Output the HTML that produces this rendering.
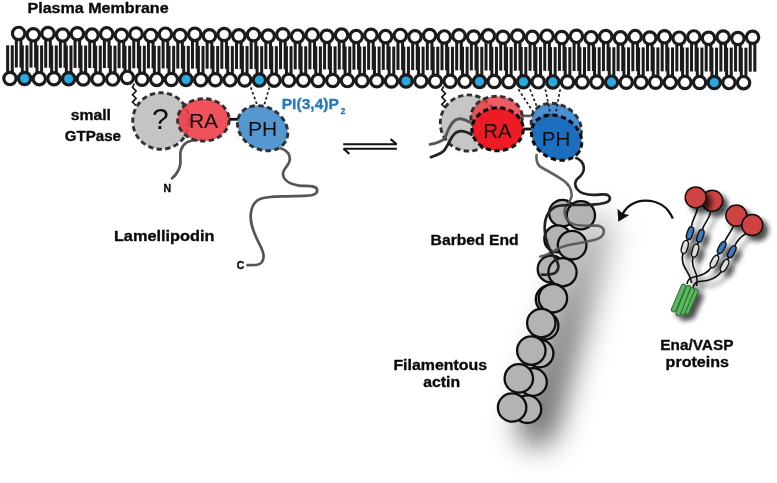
<!DOCTYPE html>
<html><head><meta charset="utf-8"><title>Lamellipodin model</title>
<style>html,body{margin:0;padding:0;background:#fff;overflow:hidden}svg{display:block}.b{font-family:"Liberation Sans",Arial,sans-serif;font-weight:bold;fill:#0a0a0a;stroke:#0a0a0a;stroke-width:0.35px}.r{font-family:"Liberation Sans",Arial,sans-serif;fill:#0c0c0c;opacity:.999}</style></head><body>
<svg width="777" height="483" viewBox="0 0 777 483">
<defs><filter id="blurA" filterUnits="userSpaceOnUse" x="420" y="120" width="330" height="363"><feGaussianBlur stdDeviation="15"/></filter><linearGradient id="sg" gradientUnits="userSpaceOnUse" x1="603" y1="215" x2="549" y2="440"><stop offset="0" stop-color="#000" stop-opacity="0.22"/><stop offset="0.5" stop-color="#000" stop-opacity="0.47"/><stop offset="1" stop-color="#000" stop-opacity="0.64"/></linearGradient><filter id="ds" x="-40%" y="-40%" width="190%" height="190%"><feGaussianBlur in="SourceAlpha" stdDeviation="2.4"/><feOffset dx="4.5" dy="4.5" result="o"/><feComponentTransfer><feFuncA type="linear" slope="0.7"/></feComponentTransfer><feMerge><feMergeNode/><feMergeNode in="SourceGraphic"/></feMerge></filter></defs>
<rect width="777" height="483" fill="#fff"/>
<g fill="#1c1a1a"><rect x="14.84" y="38.45" width="3.0" height="29.07"/><rect x="19.44" y="38.45" width="3.0" height="29.07"/><rect x="29.52" y="39.82" width="3.0" height="27.79"/><rect x="34.12" y="39.82" width="3.0" height="27.79"/><rect x="44.20" y="38.60" width="3.0" height="29.11"/><rect x="48.80" y="38.60" width="3.0" height="29.11"/><rect x="58.87" y="39.98" width="3.0" height="27.83"/><rect x="63.47" y="39.98" width="3.0" height="27.83"/><rect x="73.55" y="38.75" width="3.0" height="29.14"/><rect x="78.15" y="38.75" width="3.0" height="29.14"/><rect x="88.23" y="40.13" width="3.0" height="27.86"/><rect x="92.83" y="40.13" width="3.0" height="27.86"/><rect x="102.91" y="38.90" width="3.0" height="29.18"/><rect x="107.51" y="38.90" width="3.0" height="29.18"/><rect x="117.59" y="40.28" width="3.0" height="27.90"/><rect x="122.19" y="40.28" width="3.0" height="27.90"/><rect x="132.26" y="39.06" width="3.0" height="29.21"/><rect x="136.86" y="39.06" width="3.0" height="29.21"/><rect x="146.94" y="40.43" width="3.0" height="27.93"/><rect x="151.54" y="40.43" width="3.0" height="27.93"/><rect x="161.62" y="39.21" width="3.0" height="29.25"/><rect x="166.22" y="39.21" width="3.0" height="29.25"/><rect x="176.30" y="40.59" width="3.0" height="27.97"/><rect x="180.90" y="40.59" width="3.0" height="27.97"/><rect x="190.98" y="39.36" width="3.0" height="29.28"/><rect x="195.58" y="39.36" width="3.0" height="29.28"/><rect x="205.65" y="40.74" width="3.0" height="28.00"/><rect x="210.25" y="40.74" width="3.0" height="28.00"/><rect x="220.33" y="39.52" width="3.0" height="29.32"/><rect x="224.93" y="39.52" width="3.0" height="29.32"/><rect x="235.01" y="40.89" width="3.0" height="28.04"/><rect x="239.61" y="40.89" width="3.0" height="28.04"/><rect x="249.69" y="39.67" width="3.0" height="29.35"/><rect x="254.29" y="39.67" width="3.0" height="29.35"/><rect x="264.37" y="41.04" width="3.0" height="28.07"/><rect x="268.97" y="41.04" width="3.0" height="28.07"/><rect x="279.04" y="39.82" width="3.0" height="29.39"/><rect x="283.64" y="39.82" width="3.0" height="29.39"/><rect x="293.72" y="41.20" width="3.0" height="28.11"/><rect x="298.32" y="41.20" width="3.0" height="28.11"/><rect x="308.40" y="39.97" width="3.0" height="29.42"/><rect x="313.00" y="39.97" width="3.0" height="29.42"/><rect x="323.08" y="41.35" width="3.0" height="28.14"/><rect x="327.68" y="41.35" width="3.0" height="28.14"/><rect x="337.76" y="40.13" width="3.0" height="29.46"/><rect x="342.36" y="40.13" width="3.0" height="29.46"/><rect x="352.43" y="41.50" width="3.0" height="28.18"/><rect x="357.03" y="41.50" width="3.0" height="28.18"/><rect x="367.11" y="40.28" width="3.0" height="29.50"/><rect x="371.71" y="40.28" width="3.0" height="29.50"/><rect x="381.79" y="41.66" width="3.0" height="28.21"/><rect x="386.39" y="41.66" width="3.0" height="28.21"/><rect x="396.47" y="40.43" width="3.0" height="29.53"/><rect x="401.07" y="40.43" width="3.0" height="29.53"/><rect x="411.15" y="41.81" width="3.0" height="28.25"/><rect x="415.75" y="41.81" width="3.0" height="28.25"/><rect x="425.82" y="40.58" width="3.0" height="29.57"/><rect x="430.42" y="40.58" width="3.0" height="29.57"/><rect x="440.50" y="41.96" width="3.0" height="28.28"/><rect x="445.10" y="41.96" width="3.0" height="28.28"/><rect x="455.18" y="40.74" width="3.0" height="29.60"/><rect x="459.78" y="40.74" width="3.0" height="29.60"/><rect x="469.86" y="42.11" width="3.0" height="28.32"/><rect x="474.46" y="42.11" width="3.0" height="28.32"/><rect x="484.54" y="40.89" width="3.0" height="29.64"/><rect x="489.14" y="40.89" width="3.0" height="29.64"/><rect x="499.21" y="42.27" width="3.0" height="28.35"/><rect x="503.81" y="42.27" width="3.0" height="28.35"/><rect x="513.89" y="41.04" width="3.0" height="29.67"/><rect x="518.49" y="41.04" width="3.0" height="29.67"/><rect x="528.57" y="42.42" width="3.0" height="28.39"/><rect x="533.17" y="42.42" width="3.0" height="28.39"/><rect x="543.25" y="41.19" width="3.0" height="29.69"/><rect x="547.85" y="41.19" width="3.0" height="29.69"/><rect x="557.93" y="42.57" width="3.0" height="28.37"/><rect x="562.53" y="42.57" width="3.0" height="28.37"/><rect x="572.60" y="41.35" width="3.0" height="29.65"/><rect x="577.20" y="41.35" width="3.0" height="29.65"/><rect x="587.28" y="42.72" width="3.0" height="28.33"/><rect x="591.88" y="42.72" width="3.0" height="28.33"/><rect x="601.96" y="41.50" width="3.0" height="29.61"/><rect x="606.56" y="41.50" width="3.0" height="29.61"/><rect x="616.64" y="42.88" width="3.0" height="28.29"/><rect x="621.24" y="42.88" width="3.0" height="28.29"/><rect x="631.32" y="41.65" width="3.0" height="29.57"/><rect x="635.92" y="41.65" width="3.0" height="29.57"/><rect x="645.99" y="43.03" width="3.0" height="28.26"/><rect x="650.59" y="43.03" width="3.0" height="28.26"/><rect x="660.67" y="41.81" width="3.0" height="29.54"/><rect x="665.27" y="41.81" width="3.0" height="29.54"/><rect x="675.35" y="43.18" width="3.0" height="28.22"/><rect x="679.95" y="43.18" width="3.0" height="28.22"/><rect x="690.03" y="41.96" width="3.0" height="29.50"/><rect x="694.63" y="41.96" width="3.0" height="29.50"/><rect x="704.71" y="43.33" width="3.0" height="28.18"/><rect x="709.31" y="43.33" width="3.0" height="28.18"/><rect x="719.38" y="42.11" width="3.0" height="29.46"/><rect x="723.98" y="42.11" width="3.0" height="29.46"/><rect x="734.06" y="43.49" width="3.0" height="28.14"/><rect x="738.66" y="43.49" width="3.0" height="28.14"/><rect x="748.74" y="42.26" width="3.0" height="29.42"/><rect x="753.34" y="42.26" width="3.0" height="29.42"/><rect x="6.15" y="45.33" width="3.0" height="28.13"/><rect x="10.75" y="45.33" width="3.0" height="28.13"/><rect x="20.82" y="45.38" width="3.0" height="28.18"/><rect x="25.42" y="45.38" width="3.0" height="28.18"/><rect x="35.50" y="45.43" width="3.0" height="28.23"/><rect x="40.10" y="45.43" width="3.0" height="28.23"/><rect x="50.17" y="45.47" width="3.0" height="28.27"/><rect x="54.77" y="45.47" width="3.0" height="28.27"/><rect x="64.84" y="45.52" width="3.0" height="28.32"/><rect x="69.44" y="45.52" width="3.0" height="28.32"/><rect x="79.52" y="45.57" width="3.0" height="28.37"/><rect x="84.11" y="45.57" width="3.0" height="28.37"/><rect x="94.19" y="45.61" width="3.0" height="28.41"/><rect x="98.79" y="45.61" width="3.0" height="28.41"/><rect x="108.86" y="45.66" width="3.0" height="28.46"/><rect x="113.46" y="45.66" width="3.0" height="28.46"/><rect x="123.53" y="45.71" width="3.0" height="28.51"/><rect x="128.13" y="45.71" width="3.0" height="28.51"/><rect x="138.21" y="45.75" width="3.0" height="28.55"/><rect x="142.81" y="45.75" width="3.0" height="28.55"/><rect x="152.88" y="45.80" width="3.0" height="28.60"/><rect x="157.48" y="45.80" width="3.0" height="28.60"/><rect x="167.55" y="45.85" width="3.0" height="28.65"/><rect x="172.15" y="45.85" width="3.0" height="28.65"/><rect x="182.23" y="45.90" width="3.0" height="28.70"/><rect x="186.83" y="45.90" width="3.0" height="28.70"/><rect x="196.90" y="45.94" width="3.0" height="28.74"/><rect x="201.50" y="45.94" width="3.0" height="28.74"/><rect x="211.57" y="45.99" width="3.0" height="28.79"/><rect x="216.17" y="45.99" width="3.0" height="28.79"/><rect x="226.24" y="46.04" width="3.0" height="28.84"/><rect x="230.84" y="46.04" width="3.0" height="28.84"/><rect x="240.92" y="46.08" width="3.0" height="28.88"/><rect x="245.52" y="46.08" width="3.0" height="28.88"/><rect x="255.59" y="46.13" width="3.0" height="28.93"/><rect x="260.19" y="46.13" width="3.0" height="28.93"/><rect x="270.26" y="46.18" width="3.0" height="28.98"/><rect x="274.86" y="46.18" width="3.0" height="28.98"/><rect x="284.94" y="46.22" width="3.0" height="29.02"/><rect x="289.54" y="46.22" width="3.0" height="29.02"/><rect x="299.61" y="46.27" width="3.0" height="29.07"/><rect x="304.21" y="46.27" width="3.0" height="29.07"/><rect x="314.28" y="46.32" width="3.0" height="29.12"/><rect x="318.88" y="46.32" width="3.0" height="29.12"/><rect x="328.96" y="46.36" width="3.0" height="29.16"/><rect x="333.56" y="46.36" width="3.0" height="29.16"/><rect x="343.63" y="46.41" width="3.0" height="29.21"/><rect x="348.23" y="46.41" width="3.0" height="29.21"/><rect x="358.30" y="46.46" width="3.0" height="29.26"/><rect x="362.90" y="46.46" width="3.0" height="29.26"/><rect x="372.97" y="46.51" width="3.0" height="29.31"/><rect x="377.57" y="46.51" width="3.0" height="29.31"/><rect x="387.65" y="46.55" width="3.0" height="29.35"/><rect x="392.25" y="46.55" width="3.0" height="29.35"/><rect x="402.32" y="46.60" width="3.0" height="29.40"/><rect x="406.92" y="46.60" width="3.0" height="29.40"/><rect x="416.99" y="46.65" width="3.0" height="29.45"/><rect x="421.59" y="46.65" width="3.0" height="29.45"/><rect x="431.67" y="46.69" width="3.0" height="29.49"/><rect x="436.27" y="46.69" width="3.0" height="29.49"/><rect x="446.34" y="46.74" width="3.0" height="29.54"/><rect x="450.94" y="46.74" width="3.0" height="29.54"/><rect x="461.01" y="46.79" width="3.0" height="29.59"/><rect x="465.61" y="46.79" width="3.0" height="29.59"/><rect x="475.69" y="46.83" width="3.0" height="29.63"/><rect x="480.29" y="46.83" width="3.0" height="29.63"/><rect x="490.36" y="46.88" width="3.0" height="29.68"/><rect x="494.96" y="46.88" width="3.0" height="29.68"/><rect x="505.03" y="46.93" width="3.0" height="29.73"/><rect x="509.63" y="46.93" width="3.0" height="29.73"/><rect x="519.71" y="46.98" width="3.0" height="29.78"/><rect x="524.30" y="46.98" width="3.0" height="29.78"/><rect x="534.38" y="47.02" width="3.0" height="29.82"/><rect x="538.98" y="47.02" width="3.0" height="29.82"/><rect x="549.05" y="47.07" width="3.0" height="29.84"/><rect x="553.65" y="47.07" width="3.0" height="29.84"/><rect x="563.72" y="47.12" width="3.0" height="29.85"/><rect x="568.32" y="47.12" width="3.0" height="29.85"/><rect x="578.40" y="47.16" width="3.0" height="29.86"/><rect x="583.00" y="47.16" width="3.0" height="29.86"/><rect x="593.07" y="47.21" width="3.0" height="29.87"/><rect x="597.67" y="47.21" width="3.0" height="29.87"/><rect x="607.74" y="47.26" width="3.0" height="29.88"/><rect x="612.34" y="47.26" width="3.0" height="29.88"/><rect x="622.42" y="47.30" width="3.0" height="29.89"/><rect x="627.02" y="47.30" width="3.0" height="29.89"/><rect x="637.09" y="47.35" width="3.0" height="29.90"/><rect x="641.69" y="47.35" width="3.0" height="29.90"/><rect x="651.76" y="47.40" width="3.0" height="29.91"/><rect x="656.36" y="47.40" width="3.0" height="29.91"/><rect x="666.44" y="47.44" width="3.0" height="29.92"/><rect x="671.03" y="47.44" width="3.0" height="29.92"/><rect x="681.11" y="47.49" width="3.0" height="29.93"/><rect x="685.71" y="47.49" width="3.0" height="29.93"/><rect x="695.78" y="47.54" width="3.0" height="29.94"/><rect x="700.38" y="47.54" width="3.0" height="29.94"/><rect x="710.45" y="47.59" width="3.0" height="29.95"/><rect x="715.05" y="47.59" width="3.0" height="29.95"/><rect x="725.13" y="47.63" width="3.0" height="29.96"/><rect x="729.73" y="47.63" width="3.0" height="29.96"/><rect x="739.80" y="47.68" width="3.0" height="29.97"/><rect x="744.40" y="47.68" width="3.0" height="29.97"/></g>
<g fill="#fff" stroke="#1c1a1a" stroke-width="3.2"><circle cx="18.64" cy="33.45" r="6.2"/><circle cx="33.32" cy="34.82" r="6.2"/><circle cx="48.00" cy="33.60" r="6.2"/><circle cx="62.67" cy="34.98" r="6.2"/><circle cx="77.35" cy="33.75" r="6.2"/><circle cx="92.03" cy="35.13" r="6.2"/><circle cx="106.71" cy="33.90" r="6.2"/><circle cx="121.39" cy="35.28" r="6.2"/><circle cx="136.06" cy="34.06" r="6.2"/><circle cx="150.74" cy="35.43" r="6.2"/><circle cx="165.42" cy="34.21" r="6.2"/><circle cx="180.10" cy="35.59" r="6.2"/><circle cx="194.78" cy="34.36" r="6.2"/><circle cx="209.45" cy="35.74" r="6.2"/><circle cx="224.13" cy="34.52" r="6.2"/><circle cx="238.81" cy="35.89" r="6.2"/><circle cx="253.49" cy="34.67" r="6.2"/><circle cx="268.17" cy="36.04" r="6.2"/><circle cx="282.84" cy="34.82" r="6.2"/><circle cx="297.52" cy="36.20" r="6.2"/><circle cx="312.20" cy="34.97" r="6.2"/><circle cx="326.88" cy="36.35" r="6.2"/><circle cx="341.56" cy="35.13" r="6.2"/><circle cx="356.23" cy="36.50" r="6.2"/><circle cx="370.91" cy="35.28" r="6.2"/><circle cx="385.59" cy="36.66" r="6.2"/><circle cx="400.27" cy="35.43" r="6.2"/><circle cx="414.95" cy="36.81" r="6.2"/><circle cx="429.62" cy="35.58" r="6.2"/><circle cx="444.30" cy="36.96" r="6.2"/><circle cx="458.98" cy="35.74" r="6.2"/><circle cx="473.66" cy="37.11" r="6.2"/><circle cx="488.34" cy="35.89" r="6.2"/><circle cx="503.01" cy="37.27" r="6.2"/><circle cx="517.69" cy="36.04" r="6.2"/><circle cx="532.37" cy="37.42" r="6.2"/><circle cx="547.05" cy="36.19" r="6.2"/><circle cx="561.73" cy="37.57" r="6.2"/><circle cx="576.40" cy="36.35" r="6.2"/><circle cx="591.08" cy="37.72" r="6.2"/><circle cx="605.76" cy="36.50" r="6.2"/><circle cx="620.44" cy="37.88" r="6.2"/><circle cx="635.12" cy="36.65" r="6.2"/><circle cx="649.79" cy="38.03" r="6.2"/><circle cx="664.47" cy="36.81" r="6.2"/><circle cx="679.15" cy="38.18" r="6.2"/><circle cx="693.83" cy="36.96" r="6.2"/><circle cx="708.51" cy="38.33" r="6.2"/><circle cx="723.18" cy="37.11" r="6.2"/><circle cx="737.86" cy="38.49" r="6.2"/><circle cx="752.54" cy="37.26" r="6.2"/><circle cx="9.95" cy="78.46" r="6.15"/><circle cx="24.62" cy="78.56" r="6.15" fill="#29a9e1"/><circle cx="39.30" cy="78.65" r="6.15"/><circle cx="53.97" cy="78.75" r="6.15"/><circle cx="68.64" cy="78.84" r="6.15" fill="#29a9e1"/><circle cx="83.31" cy="78.93" r="6.15"/><circle cx="97.99" cy="79.03" r="6.15"/><circle cx="112.66" cy="79.12" r="6.15"/><circle cx="127.33" cy="77.41" r="6.15"/><circle cx="142.01" cy="79.31" r="6.15"/><circle cx="156.68" cy="79.40" r="6.15"/><circle cx="171.35" cy="79.50" r="6.15"/><circle cx="186.03" cy="79.59" r="6.15" fill="#29a9e1"/><circle cx="200.70" cy="79.68" r="6.15"/><circle cx="215.37" cy="79.78" r="6.15"/><circle cx="230.04" cy="79.87" r="6.15"/><circle cx="244.72" cy="79.97" r="6.15"/><circle cx="259.39" cy="80.06" r="6.15" fill="#29a9e1"/><circle cx="274.06" cy="80.15" r="6.15"/><circle cx="288.74" cy="80.25" r="6.15"/><circle cx="303.41" cy="80.34" r="6.15"/><circle cx="318.08" cy="80.44" r="6.15"/><circle cx="332.76" cy="80.53" r="6.15"/><circle cx="347.43" cy="80.62" r="6.15"/><circle cx="362.10" cy="80.72" r="6.15"/><circle cx="376.77" cy="80.81" r="6.15"/><circle cx="391.45" cy="80.91" r="6.15"/><circle cx="406.12" cy="81.00" r="6.15" fill="#29a9e1"/><circle cx="420.79" cy="81.09" r="6.15"/><circle cx="435.47" cy="81.19" r="6.15"/><circle cx="450.14" cy="81.28" r="6.15"/><circle cx="464.81" cy="81.37" r="6.15"/><circle cx="479.49" cy="81.47" r="6.15" fill="#29a9e1"/><circle cx="494.16" cy="81.56" r="6.15"/><circle cx="508.83" cy="81.66" r="6.15"/><circle cx="523.50" cy="81.75" r="6.15" fill="#29a9e1"/><circle cx="538.18" cy="81.84" r="6.15"/><circle cx="552.85" cy="81.91" r="6.15" fill="#29a9e1"/><circle cx="567.52" cy="81.96" r="6.15"/><circle cx="582.20" cy="82.02" r="6.15"/><circle cx="596.87" cy="82.08" r="6.15"/><circle cx="611.54" cy="82.14" r="6.15" fill="#29a9e1"/><circle cx="626.22" cy="82.19" r="6.15"/><circle cx="640.89" cy="82.25" r="6.15"/><circle cx="655.56" cy="82.31" r="6.15"/><circle cx="670.24" cy="82.36" r="6.15"/><circle cx="684.91" cy="82.42" r="6.15"/><circle cx="699.58" cy="82.48" r="6.15"/><circle cx="714.25" cy="82.54" r="6.15" fill="#29a9e1"/><circle cx="728.93" cy="82.59" r="6.15"/><circle cx="743.60" cy="82.65" r="6.15"/></g>
<path d="M134.3,83.6 L132.5,87.3 L136.1,91.0 L132.5,94.7 L136.1,98.4 L132.5,102.1 L136.1,105.8" fill="none" stroke="#111" stroke-width="1.6" stroke-linejoin="miter"/>
<path d="M443.6,86.3 L441.8,89.9 L445.4,93.5 L441.8,97.1 L445.4,100.7 L441.8,104.3 L445.4,107.9" fill="none" stroke="#111" stroke-width="1.6"/>
<path d="M250.8,87.4 L257,104.7 M269.4,87.4 L264.3,104.7" stroke="#1c1c1c" stroke-width="1.7" stroke-dasharray="2.6 2.4" fill="none"/>
<path d="M198,140 C190,140 183,143 181,150 C179,156 181.5,160 180,166 C178.5,171 176,175 172,178.3" fill="none" stroke="#555" stroke-width="2.7" stroke-linecap="round"/>
<path d="M280.7,148.2 C287,150 291,155 289.5,161 C288,167 283,168.5 283,173.5 C283,179 288,184 299,185.6 C306,186.6 317,184.5 317.2,190.3 C317.4,195 311,195.7 304,195.8 L285.6,196.3 C275,196.6 266,196.5 260,199 C254,201.5 251.5,207 250.8,214 C250,223 253,230 256,237 C259,244 263,249 263.5,255 C264,261 261,264.5 256,265 L247.5,265.2" fill="none" stroke="#555" stroke-width="2.7" stroke-linecap="round"/>
<path d="M229,119.3 L238.5,119.3" stroke="#111" stroke-width="2.8"/>
<circle cx="161" cy="121" r="28.3" fill="#c4c4c4" stroke="#303030" stroke-width="2.9" stroke-dasharray="5.3 3.4"/>
<ellipse cx="203.4" cy="119.9" rx="25.8" ry="21.2" fill="#ee3f4a" fill-opacity="0.9" stroke="#303030" stroke-width="2.9" stroke-dasharray="5.3 3.4"/>
<ellipse cx="262.6" cy="128.2" rx="26.5" ry="21" transform="rotate(31 262.6 128.2)" fill="#5598d0" stroke="#303030" stroke-width="2.9" stroke-dasharray="5.3 3.4"/>
<text class="r" x="160.3" y="128.8" font-size="30" text-anchor="middle">?</text>
<text class="r" x="203.5" y="128.2" font-size="21" text-anchor="middle">RA</text>
<text class="r" x="262.7" y="135.8" font-size="21" text-anchor="middle">PH</text>
<g fill="none" stroke="#111" stroke-width="2.1" stroke-linejoin="bevel"><path d="M343.2,144.3 L396.6,144.3 L390.6,139.1"/><path d="M396.9,148.7 L343.6,148.7 L349.3,153.9"/></g>
<g filter="url(#blurA)"><path d="M595,232 L537,427" stroke="url(#sg)" stroke-width="38" stroke-linecap="round" fill="none"/></g>
<path d="M443,107 L443,107" stroke="#111"/>
<path d="M518.4,89.3 L533.5,112.4 M530,89.3 L538.2,110" stroke="#1c1c1c" stroke-width="1.7" stroke-dasharray="2.6 2.4" fill="none"/>
<circle cx="468.4" cy="123" r="28.1" fill="#c6c6c6" stroke="#303030" stroke-width="2.9" stroke-dasharray="5.3 3.4"/>
<path d="M521.5,115.9 L531,115.9" stroke="#555" stroke-width="2.6"/>
<ellipse cx="496.6" cy="117.2" rx="25.7" ry="21" fill="#ea353d" fill-opacity="0.8" stroke="#303030" stroke-width="2.9" stroke-dasharray="5.3 3.4"/>
<ellipse cx="556.3" cy="125.8" rx="26.5" ry="21" transform="rotate(31 556.3 125.8)" fill="#4a8fd2" stroke="#303030" stroke-width="2.9" stroke-dasharray="5.3 3.4"/>
<path d="M545.4,89.3 L550.6,115.5 M560.2,89.3 L555.4,115" stroke="#1c1c1c" stroke-width="1.7" stroke-dasharray="2.6 2.4" fill="none"/>
<path d="M471,122.8 C467,120.5 462.5,118.3 458.5,118.8 C453.5,119.5 451,124.5 448.7,128.8 C446.5,133 446.5,136.5 444,139 C441,142 436,143.3 430,144.3" fill="none" stroke="#555" stroke-width="2.8" stroke-linecap="round"/>
<path d="M471.5,134.5 C468,132.5 464,130.8 460.4,131.1 C456.5,131.5 455,133 453.4,135 C451.5,137.5 450.3,140 448.7,142.8 C447,146 445.8,149 443.3,151.3 C440.5,154 436.5,155 430.9,157.1" fill="none" stroke="#222" stroke-width="2.8" stroke-linecap="round"/>
<path d="M523,129 L531.5,129" stroke="#111" stroke-width="2.8"/>
<ellipse cx="497.6" cy="129.3" rx="25.6" ry="21.5" fill="#ed1c24" stroke="#0c0c0c" stroke-width="3.1" stroke-dasharray="5.3 3.4"/>
<ellipse cx="556.6" cy="137.6" rx="26.5" ry="21" transform="rotate(31 556.6 137.6)" fill="#1c6fbf" stroke="#0c0c0c" stroke-width="3.1" stroke-dasharray="5.3 3.4"/>
<text class="r" x="497.5" y="138" font-size="20.5" text-anchor="middle">RA</text>
<text class="r" x="556" y="146.2" font-size="20.5" text-anchor="middle">PH</text>
<g fill="#b3b3b3" stroke="#0d0d0d" stroke-width="2.3"><circle cx="562.4" cy="213.1" r="13.3"/><circle cx="580.9" cy="215.3" r="14.1"/><circle cx="557.8" cy="238.9" r="13.5"/><circle cx="572.1" cy="245.2" r="14.3"/><circle cx="551.2" cy="269.0" r="13.5"/><circle cx="562.5" cy="272.2" r="14.1"/><circle cx="549.6" cy="299.2" r="13.8"/><circle cx="552.9" cy="298.2" r="14.2"/><circle cx="544.6" cy="325.7" r="13.8"/><circle cx="541.3" cy="323.1" r="14.2"/><circle cx="539.6" cy="353.5" r="13.8"/><circle cx="531.3" cy="350.6" r="14.2"/><circle cx="533.0" cy="382.0" r="13.8"/><circle cx="518.8" cy="378.4" r="14.2"/><circle cx="527.4" cy="409.2" r="13.8"/><circle cx="512.1" cy="407.5" r="14.2"/></g>
<path d="M536.5,155 C536,161 537,165 541.5,167.5 C548,171 557,176 563.3,180.4 C569,184.5 572,190 571.6,196 C571.2,201 566,204 565.2,208 C564.3,212.5 564.5,217 568,221 C572,225.5 580,225.7 586,225.7 L596,225.6 C601,225.6 604,228 603.8,232 C603.6,236.5 600,238.5 594,240 C585,242.3 576,243.5 567.3,245.3 C560,247 556,249.5 552.4,251.8 C548,254.5 544,255.8 540.2,256.5" fill="none" stroke="#555" stroke-opacity="0.92" stroke-width="2.6" stroke-linecap="round"/>
<path d="M576.4,158 C581,160 583.5,163 583.8,167.5 C584.2,173 581,176 577.8,178.5 C574.5,181 574.5,185.5 577,189 C580,193 586,194.8 593.8,194.9 C599,195 605,193.2 608,195.2 C611,197.5 610.5,201 606,202.6 C602,204 596,204.6 590,204.8 L573.5,205 C566,205.1 559,205 555,207 C550,209.5 547,214 545.6,219.6 C544,226 544.6,232 545.8,237.9 C547,243.5 548.5,247 550.5,250.9 C552.5,255 556,258.5 557.5,262.5 C559,266.5 558.5,270 556,272.3 C553,275 547,274.9 542.1,274.7" fill="none" stroke="#222" stroke-width="2.7" stroke-linecap="round"/>
<path d="M672.8,218.6 C668,207 658,200.6 645.5,200.6 C634,200.6 626,207 622.6,214.2" fill="none" stroke="#111" stroke-width="2.3"/>
<path d="M618.3,221.8 L617.5,208.7 L623,213.7 L629.3,215.1 Z" fill="#111"/>
<g filter="url(#ds)"><path d="M697.5,207.5 C697,214 692.5,219 691.5,226 M688.6,239 L686.5,241 M683,253.5 C681.5,259 682,263 685,268 C688,273 691,277 691.5,283" fill="none" stroke="#111" stroke-width="1.6"/><path d="M710.5,211.5 C710,218 704.5,223 702.3,229.5 M698.8,242.3 L697,244.5 M693.2,257 C691.5,262 692.5,266 695,271 C697.5,276 697.5,281 696.5,286" fill="none" stroke="#111" stroke-width="1.6"/><path d="M733.5,226 C731,232 727,236 724.6,241.8 M718.6,253.5 L717.3,255.5 M711.2,267.5 C707,274 700,276 694,277 C689.5,277.8 687.5,280 687,284" fill="none" stroke="#111" stroke-width="1.6"/><path d="M746,233.5 C740,237 737,241 734.8,245.8 M728.8,257.5 L727.5,259.5 M721.5,271.5 C716,279 708,281 701,281.2 C696,281.4 693.5,284 693,288" fill="none" stroke="#111" stroke-width="1.6"/><rect x="687.20" y="226.60" width="5.6" height="13" rx="2.8" ry="4.68" transform="rotate(18 690 233.1)" fill="#3a7cc6" stroke="#111" stroke-width="1.4"/><rect x="697.60" y="229.30" width="5.6" height="13" rx="2.8" ry="4.68" transform="rotate(18 700.4 235.8)" fill="#3a7cc6" stroke="#111" stroke-width="1.4"/><rect x="718.90" y="241.10" width="5.6" height="13" rx="2.8" ry="4.68" transform="rotate(28 721.7 247.6)" fill="#3a7cc6" stroke="#111" stroke-width="1.4"/><rect x="729.00" y="245.20" width="5.6" height="13" rx="2.8" ry="4.68" transform="rotate(28 731.8 251.7)" fill="#3a7cc6" stroke="#111" stroke-width="1.4"/><rect x="681.90" y="240.25" width="5.8" height="13.5" rx="2.9" ry="4.86" transform="rotate(16 684.8 247)" fill="#dcdcdc" stroke="#111" stroke-width="1.4"/><rect x="692.30" y="243.95" width="5.8" height="13.5" rx="2.9" ry="4.86" transform="rotate(16 695.2 250.7)" fill="#dcdcdc" stroke="#111" stroke-width="1.4"/><rect x="711.50" y="254.75" width="5.8" height="13.5" rx="2.9" ry="4.86" transform="rotate(28 714.4 261.5)" fill="#dcdcdc" stroke="#111" stroke-width="1.4"/><rect x="721.70" y="258.85" width="5.8" height="13.5" rx="2.9" ry="4.86" transform="rotate(28 724.6 265.6)" fill="#dcdcdc" stroke="#111" stroke-width="1.4"/><rect x="689.05" y="287.86" width="4.6" height="27.09" rx="2.3" transform="rotate(23.7 691.35 301.40)" fill="#5cb860" stroke="#2c6b30" stroke-width="1"/><rect x="685.10" y="286.84" width="4.6" height="29.22" rx="2.3" transform="rotate(23.0 687.40 301.45)" fill="#5cb860" stroke="#2c6b30" stroke-width="1"/><rect x="676.30" y="283.03" width="4.6" height="29.85" rx="2.3" transform="rotate(22.9 678.60 297.95)" fill="#5cb860" stroke="#2c6b30" stroke-width="1"/><rect x="681.00" y="284.45" width="4.6" height="31.91" rx="2.3" transform="rotate(20.9 683.30 300.40)" fill="#5cb860" stroke="#2c6b30" stroke-width="1"/></g>
<circle filter="url(#ds)" cx="712.2" cy="200.7" r="10.5" fill="#cf4242" stroke="#111" stroke-width="1.5"/><circle filter="url(#ds)" cx="695.7" cy="197.4" r="10.5" fill="#cf4242" stroke="#111" stroke-width="1.5"/><circle filter="url(#ds)" cx="736.3" cy="215.6" r="10.5" fill="#cf4242" stroke="#111" stroke-width="1.5"/><circle filter="url(#ds)" cx="752.3" cy="225.1" r="10.5" fill="#cf4242" stroke="#111" stroke-width="1.5"/>
<g opacity="0.999">
<text class="b" transform="translate(27.5,13.4) scale(1,0.93)" font-size="16" textLength="141.1" lengthAdjust="spacingAndGlyphs">Plasma Membrane</text>
<text class="b" transform="translate(70.8,120.1) scale(1,0.93)" font-size="16" textLength="40.2" lengthAdjust="spacingAndGlyphs">small</text>
<text class="b" transform="translate(64.7,141) scale(1,0.93)" font-size="16" textLength="56.3" lengthAdjust="spacingAndGlyphs">GTPase</text>
<text class="b" transform="translate(113.9,241) scale(1,0.93)" font-size="16" textLength="100.5" lengthAdjust="spacingAndGlyphs">Lamellipodin</text>
<text class="b" transform="translate(430.6,244.7) scale(1,0.93)" font-size="16" textLength="88.0" lengthAdjust="spacingAndGlyphs">Barbed End</text>
<text class="b" transform="translate(393.4,369.7) scale(1,0.93)" font-size="16" textLength="93.7" lengthAdjust="spacingAndGlyphs">Filamentous</text>
<text class="b" transform="translate(423.2,386.5) scale(1,0.93)" font-size="16" textLength="36.9" lengthAdjust="spacingAndGlyphs">actin</text>
<text class="b" transform="translate(660.3,350.3) scale(1,0.93)" font-size="16" textLength="73.1" lengthAdjust="spacingAndGlyphs">Ena/VASP</text>
<text class="b" transform="translate(665.6,367.2) scale(1,0.93)" font-size="16" textLength="63.4" lengthAdjust="spacingAndGlyphs">proteins</text>
<text class="b" transform="translate(281.7,109) scale(1,0.93)" font-size="16" textLength="57.2" lengthAdjust="spacingAndGlyphs" style="fill:#2678be;stroke:#2678be">PI(3,4)P</text>
<text class="b" x="340.7" y="114.3" font-size="8.2" style="fill:#2678be;stroke:#2678be">2</text>
<text class="b" x="167.3" y="191.8" font-size="10.5" text-anchor="middle">N</text>
<text class="b" x="240.5" y="269" font-size="10.5" text-anchor="middle">C</text>
</g>
</svg></body></html>
